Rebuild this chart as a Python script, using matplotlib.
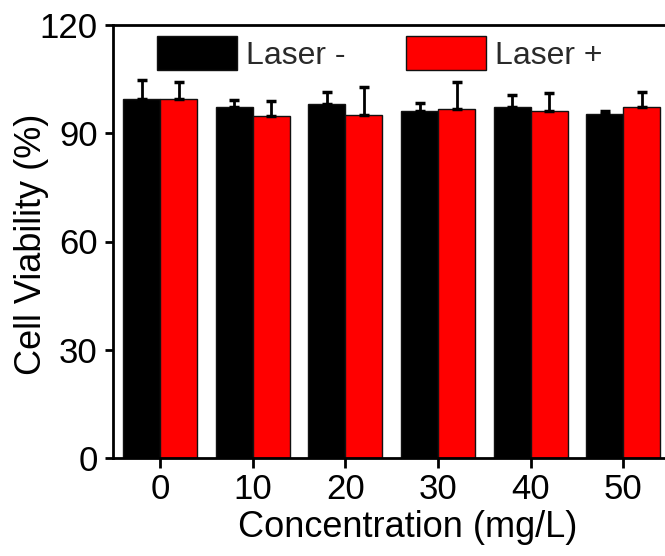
import matplotlib
matplotlib.use('Agg')
import matplotlib.pyplot as plt
import numpy as np

plt.rcParams['font.family'] = ['Liberation Sans', 'DejaVu Sans']

# data
conc = [0, 10, 20, 30, 40, 50]
laser_off = [99.5, 97.4, 98.1, 96.3, 97.4, 95.3]
laser_off_err = [5.3, 1.8, 3.4, 2.0, 3.2, 1.0]
laser_on = [99.4, 94.9, 95.1, 96.7, 96.2, 97.2]
laser_on_err = [4.9, 3.9, 7.6, 7.6, 4.9, 4.3]

W, H = 665, 556
fig = plt.figure(figsize=(W / 100, H / 100), dpi=100)
# axes runs past the right edge of the figure, as in the original
left, right, top, bottom = 113, 700, 25, 458
ax = fig.add_axes([left / W, 1 - bottom / H, (right - left) / W, (bottom - top) / H])

x = np.array(conc, dtype=float)
w = 4.0
err_kw = dict(ecolor='black', elinewidth=2, capsize=3.5, capthick=2.5)
ax.bar(x - w / 2, laser_off, w, color='black', edgecolor='#111111', linewidth=1,
       yerr=[np.zeros(len(conc)), laser_off_err], error_kw=err_kw, label='Laser -')
ax.bar(x + w / 2, laser_on, w, color='#ff0000', edgecolor='#111111', linewidth=1,
       yerr=[np.zeros(len(conc)), laser_on_err], error_kw=err_kw, label='Laser +')

ax.set_xlim(-5.1, -5.1 + (right - left) / 9.26)
ax.set_ylim(0, 120)
ax.set_xticks(conc)
ax.set_yticks([0, 30, 60, 90, 120])
ax.tick_params(direction='out', length=6, width=2, labelsize=25)
ax.tick_params(axis='x', length=7, pad=4)
ax.tick_params(axis='y', pad=5)
for s in ax.spines.values():
    s.set_linewidth(2)

ax.set_xlabel('Concentration (mg/L)', fontsize=26)
ax.set_ylabel('Cell Viability (%)', fontsize=26)
ax.xaxis.set_label_coords((408 - left) / (right - left), -0.12)
ax.yaxis.set_label_coords(-0.109, 0.494)

leg = ax.legend(loc='upper left', bbox_to_anchor=(157 / W, 1 - 36 / H),
                bbox_transform=fig.transFigure, ncol=2, frameon=False, fontsize=23,
                handlelength=2.5, handleheight=1.25, handletextpad=0.28,
                columnspacing=1.9, borderpad=0, borderaxespad=0)
for t in leg.get_texts():
    t.set_color('#2a2a2a')

fig.savefig('out.png', dpi=100)
